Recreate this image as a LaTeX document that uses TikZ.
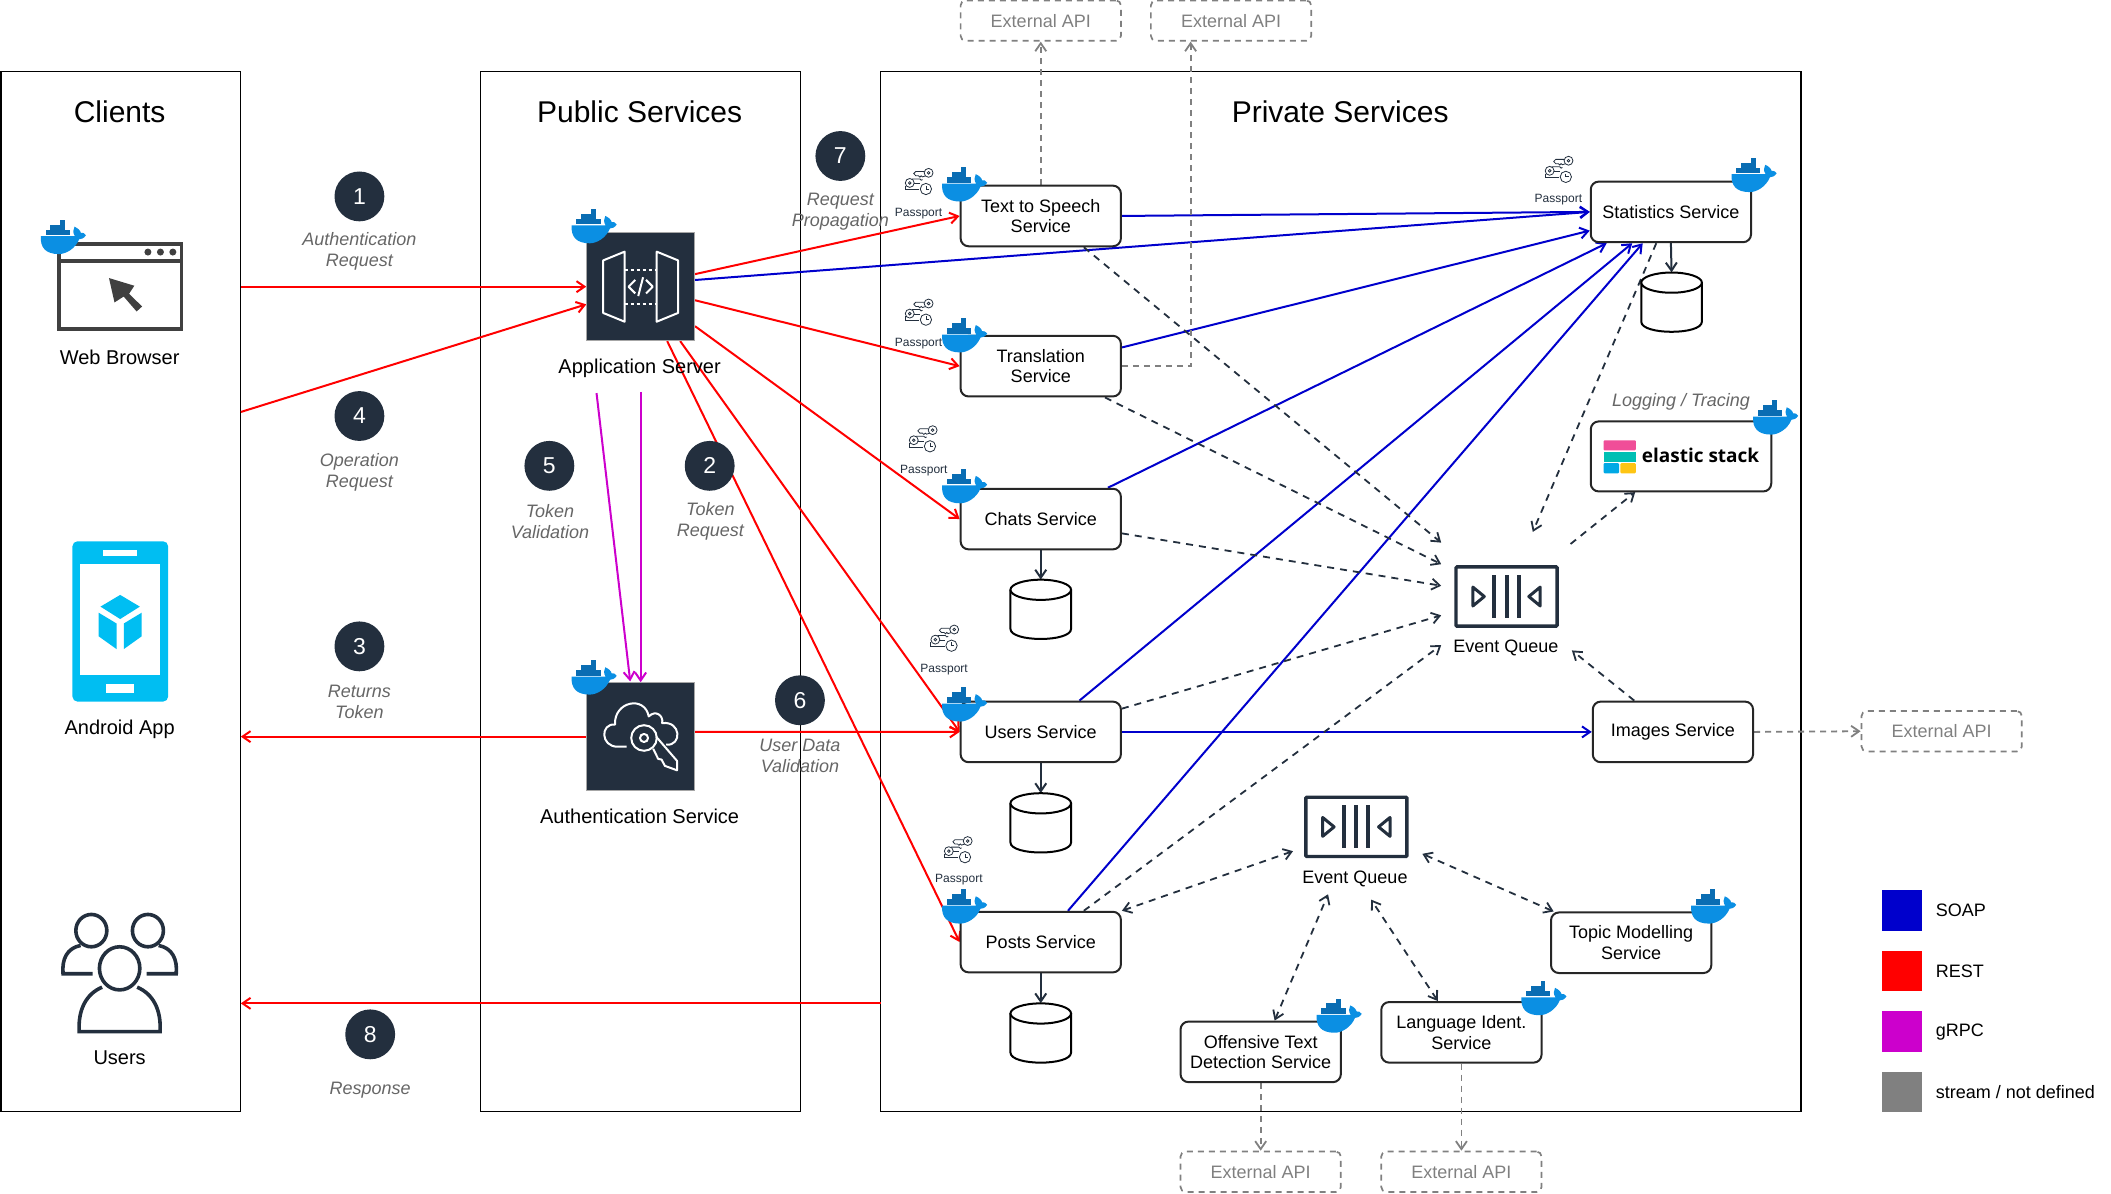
\documentclass[tikz,border=0pt]{standalone}
\usepackage{fontspec}
\setmainfont{Liberation Sans}
\newfontfamily\elasticfont{Open Sans}
\usetikzlibrary{arrows.meta,backgrounds}

\definecolor{awsdark}{HTML}{232F3E}
\definecolor{soapblue}{HTML}{0000CC}
\definecolor{restred}{HTML}{FF0000}
\definecolor{grpcpink}{HTML}{CC00CC}
\definecolor{streamgray}{HTML}{808080}
\definecolor{labelgray}{HTML}{666666}
\definecolor{dockerblue}{HTML}{0B8FE3}
\definecolor{dockerdark}{HTML}{0A6DB3}
\definecolor{phonecyan}{HTML}{00BEF2}
\definecolor{elasticpink}{HTML}{F04E98}
\definecolor{elasticteal}{HTML}{00BFB3}
\definecolor{elasticblue}{HTML}{00A9E5}
\definecolor{elasticyellow}{HTML}{FEC514}
\newcommand{\ux}{1.347pt}

\tikzset{
  panel/.style={draw=black,line width=1.2pt,minimum width=#1*\ux,minimum height=772*\ux},
  paneltitle/.style={font=\fontsize{30}{32}\selectfont},
  servicebox/.style={draw=black!85,fill=white,line width=2pt,rounded corners=8pt,
    minimum width=119*\ux,minimum height=45*\ux,align=center,inner sep=0pt,
    font=\fontsize{18}{20.5}\selectfont},
  extbox/.style={draw=streamgray,dashed,dash pattern=on 6pt off 5pt,line width=1.7pt,rounded corners=5pt,
    text=streamgray,minimum width=119*\ux,minimum height=30*\ux,inner sep=0pt,
    font=\fontsize{18}{20}\selectfont},
  dbstore/.style={minimum width=45*\ux,minimum height=44*\ux,inner sep=0pt},
  awssquare/.style={fill=awsdark,draw=streamgray!70,line width=1pt,minimum size=80*\ux,inner sep=0pt},
  queuebox/.style={draw=awsdark,line width=3.4pt,rounded corners=1pt,minimum width=75*\ux,minimum height=44*\ux},
  iconlabel/.style={font=\fontsize{20}{22}\selectfont},
  queuelabel/.style={font=\fontsize{18}{20}\selectfont},
  stepdot/.style={circle,fill=awsdark,text=white,minimum size=37*\ux,inner sep=0pt,font=\fontsize{23}{25}\selectfont},
  steptext/.style={text=labelgray,align=center,font=\fontsize{18}{21}\selectfont\itshape},
  passporttext/.style={text=awsdark,font=\fontsize{12}{14}\selectfont},
  legendtext/.style={anchor=west,font=\fontsize{18}{20}\selectfont},
  legendbox/.style={minimum size=30*\ux,inner sep=0pt},
  rest/.style={draw=restred,line width=2pt,-{Straight Barb[length=8pt,width=11pt]}},
  soap/.style={draw=soapblue,line width=2pt,-{Straight Barb[length=8pt,width=11pt]}},
  grpc/.style={draw=grpcpink,line width=2pt,-{Straight Barb[length=8pt,width=11pt]}},
  stream/.style={draw=streamgray,line width=1.8pt,dash pattern=on 6pt off 5pt,-{Straight Barb[length=8pt,width=11pt]}},
  eventflow/.style={draw=awsdark,line width=1.8pt,dash pattern=on 7pt off 6pt,-{Straight Barb[length=8pt,width=11pt]}},
  eventboth/.style={draw=awsdark,line width=1.8pt,dash pattern=on 7pt off 6pt,{Straight Barb[length=8pt,width=11pt]}-{Straight Barb[length=8pt,width=11pt]}},
  store/.style={draw=awsdark,line width=2pt,-{Straight Barb[length=8pt,width=11pt]}},
  dockerpic/.pic={
    \fill[dockerblue] (-16.5,-0.5) -- (8.8,-0.5) .. controls (7,-3) and (7.5,-5.5) .. (8.5,-7.5)
      .. controls (11,-6.5) and (13,-4.5) .. (13.2,-3) .. controls (14.5,-3.3) and (16,-2.8) .. (17,-1.2)
      .. controls (15.5,1.2) and (13.5,1.8) .. (12,1.8) .. controls (9,9) and (2,12.8) .. (-3,12.8)
      .. controls (-13,12.8) and (-17,8) .. cycle;
    \fill[dockerdark] (-13,-5.4) rectangle (5,-1.2);
    \fill[dockerdark] (-9.4,-9) rectangle (1.4,-5.4);
    \fill[dockerdark] (-2.2,-12.6) rectangle (1.4,-9);
  },
  keyspic/.pic={
    \begin{scope}[draw=awsdark,line width=0.8pt]
      \draw (7.5,-6.5) circle (3.3);
      \draw (7.5,-6.5) circle (1);
      \draw (4.3,-7.5) -- (-2,-7.5) -- (-3.5,-6) -- (-2,-4.3) -- (0,-4.3) -- (1,-3.3) -- (2,-4.3) -- (3,-3.5) -- (5,-4.2);
      \draw (-6.5,1) circle (3.3);
      \draw (-6.5,1) circle (1);
      \draw (-5,-2) -- (1,-2) -- (2,-1) -- (3,-1.5);
      \draw (-3.2,1.5) -- (1,1.5);
      \draw (-10,3) -- (-10,6) -- (0.5,6);
      \draw (5.5,5.5) circle (4.2);
      \draw (5.5,3) -- (5.5,5.5) -- (7.5,5.5);
    \end{scope}
  },
  queuepic/.pic={
    \foreach \xb in {-9,0,9}
      \fill[awsdark] (\xb-1.5,-16) rectangle (\xb+1.5,16);
    \draw[awsdark,line width=3pt,line join=round] (-25,-7) -- (-16.5,0) -- (-25,7) -- cycle;
    \draw[awsdark,line width=3pt,line join=round] (25,-7) -- (16.5,0) -- (25,7) -- cycle;
  },
  dbpic/.pic={
    \filldraw[fill=white,draw=black,line width=2pt] (-22.5,-14.5) -- (-22.5,14.5)
      .. controls (-22.5,24.5) and (22.5,24.5) .. (22.5,14.5) -- (22.5,-14.5);
    \filldraw[fill=white,draw=black,line width=2pt] (0,-14.5) ellipse (22.5 and 7.5);
  },
}

\begin{document}
\begin{tikzpicture}[x=1.347pt,y=-1.347pt]
    \useasboundingbox (0.2,0.2) rectangle (1567.2,886.2);

    \begin{scope}[on background layer]
      \node[panel=177.5] (clients) at (89.75,439) {};
      \node[panel=237.5] (public) at (475.75,439) {};
      \node[panel=683] (private) at (995.5,439) {};
    \end{scope}

    \node[paneltitle] (clientstitle) at (89,83) {Clients};
    \node[paneltitle] (publictitle) at (475,83) {Public Services};
    \node[paneltitle] (privatetitle) at (995,83) {Private Services};

    % services
    \node[servicebox] (tts) at (772.75,160.5) {Text to Speech\\Service};
    \node[servicebox] (translation) at (772.75,272) {Translation\\Service};
    \node[servicebox] (chats) at (772.75,385.5) {Chats Service};
    \node[servicebox] (users) at (772.75,543.5) {Users Service};
    \node[servicebox] (posts) at (772.75,699.5) {Posts Service};
    \node[servicebox] (stats) at (1240.5,157.5) {Statistics Service};
    \node[servicebox] (images) at (1242,543.5) {Images Service};
    \node[servicebox] (topic) at (1211,700) {Topic Modelling\\Service};
    \node[servicebox] (language) at (1085,766.5) {Language Ident.\\Service};
    \node[servicebox] (offensive) at (936,781) {Offensive Text\\Detection Service};
    \node[servicebox,minimum width=134*\ux,minimum height=52*\ux] (elastic) at (1248,339) {};
    \node[font=\elasticfont\bfseries\fontsize{19}{21}\selectfont] (elastictext) at (1262.5,338) {elastic stack};
    \fill[elasticpink,rounded corners=1pt] (1190.5,327) rectangle (1214.5,334.5);
    \fill[elasticteal] (1190.5,335.5) rectangle (1214.5,343);
    \fill[elasticblue,rounded corners=1pt] (1190.5,344) rectangle (1202,351.5);
    \fill[elasticyellow,rounded corners=1pt] (1203,344) rectangle (1214.5,351.5);

    % outside the panels
    \node[extbox] (extone) at (772.75,15.5) {External API};
    \node[extbox] (exttwo) at (914,15.5) {External API};
    \node[extbox] (extthree) at (1441.5,543) {External API};
    \node[extbox] (extfour) at (936,870) {External API};
    \node[extbox] (extfive) at (1085,870) {External API};

    % databases
    \foreach \nm/\xd/\yd in {chats/772.75/452.5,users/772.75/611,posts/772.75/767,stats/1241/224.5}
    {
       \node[dbstore] (db\nm) at (\xd,\yd) {};
       \pic at (\xd,\yd) {dbpic};
    }

    % queues
    \node[queuebox] (queueone) at (1118.5,443) {};
    \pic at (1118.5,443) {queuepic};
    \node[queuelabel] (queueonetext) at (1118,481.5) {Event Queue};
    \node[queuebox] (queuetwo) at (1007,614) {};
    \pic at (1007,614) {queuepic};
    \node[queuelabel] (queuetwotext) at (1006,652.5) {Event Queue};

    % gateway
    \node[awssquare] (appserver) at (475.75,213) {};
    \node[iconlabel] (appservertext) at (475,273.5) {Application Server};
    \begin{scope}[shift={(475.75,213)},draw=white,line width=2pt,line join=round]
      \draw (-27.8,-19.5) -- (-11.9,-26) -- (-11.9,26) -- (-27.8,19.5) -- cycle;
      \draw (27.8,-19.5) -- (11.9,-26) -- (11.9,26) -- (27.8,19.5) -- cycle;
      \draw[dash pattern=on 3.5pt off 2.5pt] (-11.9,-12.5) -- (11.9,-12.5);
      \draw[dash pattern=on 3.5pt off 2.5pt] (-11.9,12.5) -- (11.9,12.5);
      \draw (-4,-5) -- (-9,0) -- (-4,5);
      \draw (4,-5) -- (9,0) -- (4,5);
      \draw (1.8,-7) -- (-1.8,7);
    \end{scope}
    \node[awssquare] (auth) at (475.75,547) {};
    \node[iconlabel] (authtext) at (475,606.5) {Authentication Service};
    \begin{scope}[shift={(475.75,547)},draw=white,line width=2pt,line join=round]
      \draw (-10.5,7.5) -- (-17,7.5) .. controls (-30,7.5) and (-30,-10) .. (-19,-9)
        .. controls (-20,-26) and (3,-31) .. (6,-15) .. controls (11,-20) and (17,-16) .. (16,-10)
        .. controls (30,-12) and (31,7) .. (19,6);
      \draw (2.5,1) circle (9.5);
      \draw (2.5,1) circle (3);
      \draw (9.3,9) -- (13,16.5) -- (15.5,17) -- (18,21.7) -- (27,25) -- (27,18) -- (11.5,0);
    \end{scope}

    % clients
    \node[iconlabel] (browsertext) at (89,265.5) {Web Browser};
    \begin{scope}[draw=black!75]
      \draw[line width=3.6pt] (44,181.5) rectangle (135,244.5);
      \draw[line width=3.6pt] (44,194) -- (135,194);
      \foreach \xb in {110,119.3,128.5}
        \fill[black!75] (\xb,187.3) circle (2.6);
      \fill[black!75] (81.1,206.6) -- (99.9,212.3) -- (96,218.3) -- (105.7,227.7) -- (101.6,231.4)
        -- (92,220.3) -- (85.2,224.7) -- cycle;
    \end{scope}
    \node[iconlabel] (androidtext) at (89,541.5) {Android App};
    \fill[phonecyan,rounded corners=5pt] (54,402) rectangle (125,521);
    \fill[white] (59.5,418.7) rectangle (119,501.6);
    \fill[white] (76.5,408.8) rectangle (101.6,412.6);
    \fill[white] (78.7,508) rectangle (99.6,514.6);
    \fill[phonecyan] (89.4,441.8) -- (104,450.5) -- (89.4,459.7) -- (74.8,450.5) -- cycle;
    \fill[phonecyan] (73.4,455) -- (86.7,463) -- (86.7,482) -- (73.4,472.5) -- cycle;
    \fill[phonecyan] (105.4,455) -- (92.1,463) -- (92.1,482) -- (105.4,472.5) -- cycle;
    \node[iconlabel] (userstext) at (89,785) {Users};
    \begin{scope}[draw=awsdark,line width=3.6pt]
      \draw (68,691) ellipse (11.5 and 12);
      \draw (110,691) ellipse (11.5 and 12);
      \draw (89,719) ellipse (15 and 16);
      \draw (69,723) -- (47,723) .. controls (46,712) and (50,704) .. (60,702);
      \draw (109,723) -- (131,723) .. controls (132,712) and (128,704) .. (118,702);
      \draw (76,733) .. controls (64,738) and (58,750) .. (59,766) -- (119,766) .. controls (120,750) and (114,738) .. (102,733);
    \end{scope}

    % free ends of the connectors
    \coordinate (opstart) at (179,306);
    \coordinate (respstart) at (654,745);
    \coordinate (validone) at (443,292);
    \coordinate (validtwo) at (475.75,291);
    \coordinate (validoneend) at (468,506);
    \coordinate (intts) at (1070,403);
    \coordinate (intranslation) at (1070,419);
    \coordinate (inchats) at (1070,435);
    \coordinate (inusers) at (1070,457);
    \coordinate (inposts) at (1070,479);
    \coordinate (inimages) at (1167,483);
    \coordinate (outlog) at (1166,404);
    \coordinate (logend) at (1214,365.5);
    \coordinate (statsend) at (1138,395);
    \coordinate (midposts) at (960,632);
    \coordinate (midoffensive) at (986,664);
    \coordinate (midlanguage) at (1018,668);
    \coordinate (midtopic) at (1056,634);
    \coordinate (transcorner) at (884,272);

    \begin{scope}[on background layer]
      \draw[rest] (clients.east |- appserver.west) -- (appserver.west);
      \draw[rest] (opstart) -- (appserver.198);
      \draw[rest] (auth.west) -- (clients.east |- auth.west);
      \draw[rest] (auth.5) -- (users.west);
      \draw[rest] (respstart) -- (clients.east |- respstart);
      \draw[rest] (appserver.13) -- (tts.west);
      \draw[rest] (appserver.-14) -- (translation.west);
      \draw[rest] (appserver.-36) -- (chats.west);
      \draw[rest] (appserver.-54) -- (users.west);
      \draw[rest] (appserver.-64.6) -- (posts.west);

      \draw[grpc] (validone) -- (validoneend);
      \draw[grpc] (validtwo) -- (auth.north);

      \draw[soap] (tts.east) -- (stats.west);
      \draw[soap] (appserver.7) -- (stats.west);
      \draw[soap] (translation.13) -- (stats.193.7);
      \draw[soap] (chats.25.3) -- (stats.-154.7);
      \draw[soap] (users.39) -- (stats.-141.2);
      \draw[soap] (posts.49) -- (stats.-132.3);
      \draw[soap] (users.east) -- (images.west);

      \draw[eventflow] (tts.-36.4) -- (intts);
      \draw[eventflow] (translation.-26.3) -- (intranslation);
      \draw[eventflow] (chats.-10) -- (inchats);
      \draw[eventflow] (users.16) -- (inusers);
      \draw[eventflow] (posts.36.4) -- (inposts);
      \draw[eventflow] (images.141) -- (inimages);
      \draw[eventflow] (outlog) -- (logend);
      \draw[eventflow] (stats.-115) -- (statsend);
      \draw[eventboth] (posts.north east) -- (midposts);
      \draw[eventboth] (offensive.66) -- (midoffensive);
      \draw[eventboth] (language.127) -- (midlanguage);
      \draw[eventboth] (topic.158) -- (midtopic);

      \draw[store] (chats.south) -- (dbchats.north);
      \draw[store] (users.south) -- (dbusers.north);
      \draw[store] (posts.south) -- (dbposts.north);
      \draw[store] (stats.south) -- (dbstats.north);

      \draw[stream] (tts.north) -- (extone.south);
      \draw[stream] (translation.east) -- (transcorner) -- (transcorner |- exttwo.south);
      \draw[stream] (images.east) -- (extthree.west);
      \draw[stream] (offensive.south) -- (extfour.north);
      \draw[stream] (language.south) -- (extfive.north);
    \end{scope}

    % docker marks
    \foreach \xd/\yd in {47/176,441/168,441/503,716/137,716/249,716/361,716/523,716/673,
                         1302/130,1318/310,1272/673,1146/741,994/754}
       \pic at (\xd,\yd) {dockerpic};

    % passports
    \foreach \xd/\yd/\xt/\yt in {682/135/682/158.5,682/232/682/255.5,685/326/686/349.5,
                                 701/474/701/497.5,711/631/712/653.5,1157/126/1157/148.5}
    {
       \pic at (\xd,\yd) {keyspic};
       \node[passporttext] at (\xt,\yt) {Passport};
    }

    % steps
    \foreach \nm/\xd/\yd in {1/267/146,4/267/309,3/267/480,8/275/768,5/408/346,2/527/346,7/624/116,6/594/520}
       \node[stepdot] (step\nm) at (\xd,\yd) {\nm};
    \node[steptext] (steponetext) at (267,187) {Authentication\\Request};
    \node[steptext] (stepfourtext) at (267,350.5) {Operation\\Request};
    \node[steptext] (stepthreetext) at (267,521) {Returns\\Token};
    \node[steptext] (stepeighttext) at (275,809.5) {Response};
    \node[steptext] (stepfivetext) at (408.5,387) {Token\\Validation};
    \node[steptext] (steptwotext) at (527.5,387.5) {Token\\Request};
    \node[steptext] (stepseventext) at (624,157.5) {Request\\Propagation};
    \node[steptext] (stepsixtext) at (594,561.5) {User Data\\Validation};
    \node[steptext] (loggingtext) at (1248,298.5) {Logging / Tracing};

    % legend
    \foreach \cl/\yd/\txt/\nm in {soapblue/676/SOAP/soap,restred/721/REST/rest,grpcpink/766/gRPC/grpc,
                                  streamgray/811/{stream / not defined}/stream}
    {
       \node[legendbox,fill=\cl] (legend\nm) at (1412,\yd) {};
       \node[legendtext] (legend\nm text) at (1434.5,\yd) {\txt};
    }
\end{tikzpicture}
\end{document}
